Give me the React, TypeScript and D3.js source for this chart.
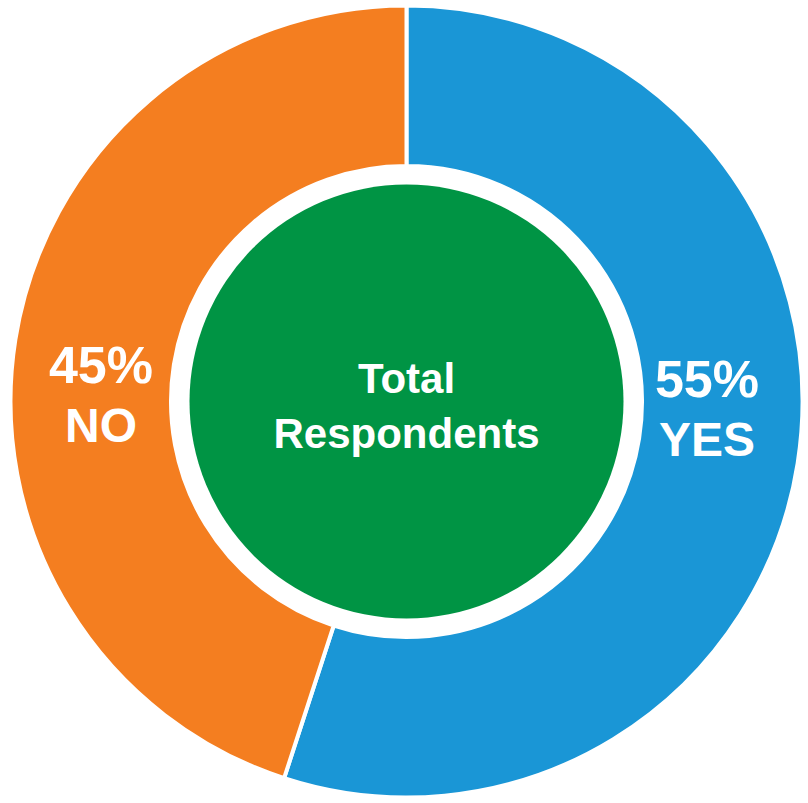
import React from "react";
import * as d3 from "d3";

const categories = ["YES", "NO"];
const values = [55, 45];
const colors = ["#1A96D6", "#F47E20"];
const centerLines = ["Total", "Respondents"];

const W = 808;
const H = 803;
const cx = 406.5;
const cy = 401.5;
const outerR = 396;
const innerR = 235.5;
const greenR = 217;

export default function App() {
  const pie = d3.pie<number>().sort(null).startAngle(0).endAngle(2 * Math.PI);
  const arcs = pie(values);
  const arcGen = d3.arc<d3.PieArcDatum<number>>().innerRadius(innerR).outerRadius(outerR);
  const labelPos: [number, number][] = [
    [707, 397],
    [101, 383],
  ];
  return (
    <svg
      width={W}
      height={H}
      style={{ position: "absolute", left: 0, top: 0, background: "#fff" }}
      fontFamily="'Liberation Sans', Arial, sans-serif"
    >
      <g transform={`translate(${cx},${cy})`}>
        {arcs.map((a, i) => (
          <path key={i} d={arcGen(a) || ""} fill={colors[i]} stroke="#fff" strokeWidth={4} />
        ))}
        <circle r={greenR} fill="#009444" />
        {centerLines.map((t, i) => (
          <text
            key={t}
            x={0}
            y={-9 + i * 55}
            textAnchor="middle"
            fill="#fff"
            fontWeight="bold"
            fontSize={42}
          >
            {t}
          </text>
        ))}
      </g>
      {categories.map((c, i) => (
        <g key={c}>
          <text x={labelPos[i][0]} y={labelPos[i][1]} textAnchor="middle" fill="#fff" fontWeight="bold" fontSize={52}>
            {values[i]}%
          </text>
          <text x={labelPos[i][0]} y={labelPos[i][1] + 59} textAnchor="middle" fill="#fff" fontWeight="bold" fontSize={48}>
            {c}
          </text>
        </g>
      ))}
    </svg>
  );
}
